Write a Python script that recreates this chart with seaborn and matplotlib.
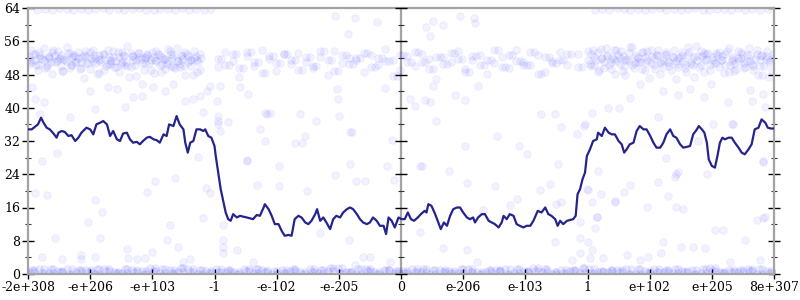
import numpy as np
import pandas as pd
import matplotlib
matplotlib.use("Agg")
import matplotlib.pyplot as plt
import seaborn as sns

# ---------------- data ----------------
x_tick_labels = ["-2e+308", "-e+206", "-e+103", "-1", "-e-102", "-e-205", "0",
                 "e-206", "e-103", "1", "e+102", "e+205", "8e+307"]
y_major = [0, 8, 16, 24, 32, 40, 48, 56, 64]
y_minor = [4, 12, 20, 28, 36, 44, 52, 60]

line_x = [
    -6.00, -5.94, -5.89, -5.84, -5.79, -5.75, -5.70, -5.65, -5.59, -5.54,
    -5.51, -5.46, -5.41, -5.35, -5.30, -5.24, -5.19, -5.14, -5.06, -5.00,
    -4.95, -4.90, -4.84, -4.79, -4.73, -4.68, -4.63, -4.57, -4.52, -4.47,
    -4.41, -4.36, -4.31, -4.25, -4.20, -4.15, -4.09, -4.04, -3.98, -3.93,
    -3.88, -3.82, -3.77, -3.73, -3.66, -3.61, -3.56, -3.50, -3.47, -3.43,
    -3.39, -3.34, -3.29, -3.23, -3.18, -3.15, -3.10, -3.05, -3.00,
    -2.98, -2.94, -2.90, -2.86, -2.82, -2.78, -2.74, -2.70, -2.64, -2.59,
    -2.54, -2.48, -2.43, -2.38, -2.32, -2.27, -2.21, -2.19, -2.13, -2.08,
    -2.03, -1.97, -1.92, -1.87, -1.81, -1.76, -1.71, -1.65, -1.60, -1.54,
    -1.49, -1.44, -1.38, -1.35, -1.30, -1.25, -1.20, -1.14, -1.09, -1.04,
    -0.98, -0.93, -0.87, -0.82, -0.77, -0.71, -0.66, -0.61, -0.55, -0.50,
    -0.45, -0.39, -0.34, -0.28, -0.24, -0.20, -0.15, -0.10, -0.04,
    0.01, 0.06, 0.11, 0.16, 0.21, 0.27, 0.32, 0.38, 0.41, 0.44,
    0.49, 0.55, 0.60, 0.64, 0.69, 0.74, 0.79, 0.84, 0.90, 0.95,
    1.00, 1.06, 1.11, 1.16, 1.19, 1.24, 1.30, 1.35, 1.41, 1.46,
    1.51, 1.57, 1.62, 1.65, 1.70, 1.75, 1.81, 1.86, 1.91, 1.97,
    2.02, 2.08, 2.13, 2.20, 2.26, 2.32, 2.37, 2.42, 2.48, 2.52,
    2.56, 2.61, 2.67, 2.72, 2.77, 2.81, 2.84, 2.88, 2.92, 2.96, 2.99,
    3.04, 3.09, 3.15, 3.17, 3.23, 3.28, 3.34, 3.39, 3.44, 3.50,
    3.55, 3.59, 3.63, 3.68, 3.74, 3.79, 3.84, 3.90, 3.95, 4.01,
    4.06, 4.11, 4.17, 4.22, 4.27, 4.33, 4.38, 4.43, 4.49, 4.54,
    4.60, 4.65, 4.70, 4.76, 4.79, 4.84, 4.88, 4.92, 4.95, 5.00,
    5.05, 5.09, 5.13, 5.17, 5.21, 5.27, 5.32, 5.37, 5.43, 5.48,
    5.53, 5.59, 5.64, 5.69, 5.75, 5.80, 5.86, 5.90, 5.95, 6.00,
]
line_y = [
    34.8, 34.8, 35.4, 36.0, 37.6, 36.4, 35.2, 34.8, 33.8, 32.8,
    34.0, 34.4, 34.2, 33.2, 33.4, 32.0, 32.8, 34.0, 35.2, 34.8,
    33.6, 36.0, 36.4, 36.8, 36.0, 33.2, 34.4, 32.4, 32.0, 33.8,
    34.0, 32.4, 31.6, 31.8, 31.2, 32.0, 32.8, 33.0, 32.4, 32.2,
    31.6, 33.6, 33.2, 36.0, 35.6, 38.0, 36.0, 34.8, 31.6, 29.2,
    31.6, 32.0, 34.8, 34.8, 34.4, 34.8, 33.2, 32.8, 30.8,
    28.4, 24.4, 20.4, 17.6, 14.8, 13.2, 12.8, 14.4, 13.6, 14.0,
    13.8, 13.6, 13.4, 13.2, 14.2, 14.0, 16.0, 16.8, 15.6, 14.0,
    12.0, 12.0, 10.4, 9.2, 9.4, 9.2, 13.2, 14.0, 13.6, 12.4,
    12.0, 12.8, 14.4, 15.6, 12.8, 13.6, 12.4, 10.8, 13.2, 14.0,
    13.6, 14.8, 15.6, 16.0, 15.6, 14.4, 13.2, 12.4, 12.0, 12.4,
    13.6, 12.8, 11.6, 11.6, 9.6, 13.6, 12.8, 11.2, 13.6,
    13.2, 13.2, 14.8, 13.2, 12.8, 13.6, 14.4, 15.2, 14.8, 16.8,
    16.4, 14.4, 12.4, 10.8, 12.4, 11.6, 14.0, 15.6, 16.0, 16.0,
    14.8, 13.6, 13.2, 13.6, 12.4, 13.6, 14.4, 14.4, 12.8, 12.4,
    12.0, 11.2, 12.4, 14.0, 13.2, 14.4, 14.0, 12.0, 11.6, 11.2,
    11.6, 11.6, 12.8, 15.2, 14.8, 16.0, 14.4, 14.0, 13.2, 11.6,
    12.8, 12.0, 12.8, 13.0, 13.2, 14.0, 19.2, 20.4, 22.8, 24.4, 28.4,
    30.0, 32.0, 32.4, 34.0, 33.2, 35.2, 34.0, 33.6, 33.6, 32.0,
    31.2, 29.2, 30.0, 31.2, 31.6, 34.4, 35.6, 34.8, 34.8, 33.2,
    31.6, 30.4, 30.4, 31.6, 33.6, 34.8, 33.2, 32.8, 31.2, 30.4,
    30.6, 30.8, 33.6, 34.8, 35.6, 34.8, 34.0, 31.6, 27.6, 26.0,
    25.6, 28.4, 31.6, 32.8, 32.4, 32.8, 32.8, 31.6, 30.4, 29.2,
    28.8, 30.0, 31.2, 34.8, 35.2, 37.2, 36.4, 35.2, 35.0, 35.0,
]

# dense band near 52 (left, middle, right)
b52_left_x = [
    -5.99, -5.95, -5.89, -5.84, -5.81, -5.75, -5.70, -5.66, -5.61, -5.57,
    -5.52, -5.47, -5.44, -5.38, -5.33, -5.30, -5.24, -5.20, -5.15, -5.10,
    -5.06, -5.01, -4.96, -4.92, -4.86, -4.83, -4.78, -4.72, -4.68, -4.64,
    -4.58, -4.54, -4.49, -4.45, -4.40, -4.35, -4.31, -4.26, -4.21, -4.17,
    -4.12, -4.08, -4.02, -3.98, -3.94, -3.88, -3.84, -3.80, -3.75, -3.70,
    -3.66, -3.61, -3.56, -3.52, -3.47, -3.42, -3.38, -3.33, -3.28, -3.24,
]
b52_left_x2 = [
    -5.97, -5.92, -5.87, -5.82, -5.78, -5.73, -5.68, -5.63, -5.59, -5.54,
    -5.49, -5.45, -5.41, -5.36, -5.31, -5.27, -5.22, -5.17, -5.13, -5.08,
    -5.03, -4.98, -4.94, -4.89, -4.85, -4.80, -4.75, -4.70, -4.66, -4.61,
    -4.56, -4.51, -4.47, -4.42, -4.37, -4.33, -4.28, -4.23, -4.19, -4.14,
    -4.10, -4.05, -4.00, -3.96, -3.91, -3.86, -3.82, -3.77, -3.72, -3.68,
    -3.63, -3.58, -3.54, -3.49, -3.44, -3.40, -3.35, -3.30, -3.26, -3.21,
]
b52_left_y1 = [
    52.3, 51.1, 53.0, 50.4, 52.8, 51.6, 49.8, 52.1, 53.4, 50.9,
    51.7, 52.6, 48.9, 51.3, 53.1, 50.2, 52.4, 51.9, 49.5, 52.7,
    50.8, 53.3, 51.2, 52.0, 48.3, 51.8, 52.9, 50.6, 51.4, 53.6,
    49.9, 52.2, 51.0, 52.5, 50.1, 53.2, 51.5, 47.6, 52.3, 50.7,
    51.9, 53.0, 49.2, 52.1, 51.3, 52.8, 50.5, 51.7, 54.1, 50.0,
    52.6, 51.2, 49.7, 52.4, 53.5, 50.9, 51.6, 52.0, 48.7, 52.9,
]
b52_left_y2 = [
    50.6, 53.8, 51.4, 49.1, 52.0, 54.4, 50.3, 51.9, 48.1, 52.6,
    53.7, 50.0, 51.8, 54.6, 49.6, 52.3, 50.9, 53.5, 51.1, 47.2,
    52.5, 49.3, 54.0, 50.7, 52.8, 51.0, 49.0, 53.9, 50.5, 52.2,
    51.3, 48.6, 53.4, 50.2, 54.8, 49.7, 52.4, 51.6, 53.1, 45.8,
    50.8, 52.7, 51.5, 48.4, 53.6, 50.4, 52.1, 49.4, 51.2, 53.0,
    49.9, 54.3, 50.6, 51.8, 47.9, 52.5, 50.1, 53.7, 51.4, 49.2,
]
b52_mid_x = [
    -2.95, -2.83, -2.71, -2.60, -2.47, -2.36, -2.24, -2.12, -2.01, -1.89,
    -1.77, -1.66, -1.53, -1.42, -1.30, -1.18, -1.07, -0.95, -0.83, -0.72,
    -0.60, -0.48, -0.37, -0.25, -0.13, -0.02, 0.10, 0.22, 0.33, 0.45,
    0.57, 0.68, 0.80, 0.92, 1.03, 1.15, 1.27, 1.38, 1.50, 1.62,
    1.73, 1.85, 1.97, 2.08, 2.20, 2.32, 2.43, 2.55, 2.67, 2.85,
]
b52_mid_x2 = [
    -2.89, -2.77, -2.65, -2.54, -2.41, -2.30, -2.18, -2.06, -1.95, -1.83,
    -1.71, -1.60, -1.47, -1.36, -1.24, -1.12, -1.01, -0.89, -0.77, -0.66,
    -0.54, -0.42, -0.31, -0.19, -0.07, 0.04, 0.16, 0.28, 0.39, 0.51,
    0.63, 0.74, 0.86, 0.98, 1.09, 1.21, 1.33, 1.44, 1.56, 1.68,
    1.79, 1.91, 2.03, 2.14, 2.26, 2.38, 2.49, 2.61, 2.73, 2.91,
]
b52_mid_y1 = [
    51.8, 50.3, 52.9, 49.6, 53.4, 51.1, 48.4, 52.5, 50.7, 53.0,
    51.4, 49.2, 52.2, 50.0, 53.7, 51.6, 48.9, 52.8, 50.5, 51.9,
    53.2, 49.8, 52.0, 51.3, 47.7, 52.6, 50.9, 53.5, 51.0, 49.4,
    52.3, 50.6, 53.1, 51.7, 48.6, 52.4, 50.2, 51.5, 53.8, 49.9,
    52.7, 51.2, 50.4, 53.3, 48.1, 52.1, 50.8, 51.6, 53.0, 49.7,
]
b52_mid_y2 = [
    49.9, 53.5, 51.2, 47.3, 52.4, 50.1, 54.0, 51.7, 48.8, 52.9,
    50.6, 53.2, 51.0, 49.5, 52.3, 47.9, 53.6, 50.8, 52.0, 51.4,
    48.5, 52.7, 50.3, 54.2, 51.5, 49.1, 52.5, 50.0, 53.0, 51.8,
    46.8, 52.2, 50.9, 53.7, 49.3, 51.6, 52.8, 48.2, 50.7, 52.1,
    49.6, 53.9, 51.1, 50.4, 52.6, 48.7, 51.3, 53.4, 50.2, 52.9,
]
b52_right_x = [
    3.01, 3.06, 3.11, 3.17, 3.22, 3.26, 3.31, 3.37, 3.42, 3.46,
    3.52, 3.57, 3.61, 3.66, 3.72, 3.77, 3.81, 3.87, 3.92, 3.96,
    4.02, 4.07, 4.11, 4.16, 4.22, 4.27, 4.31, 4.37, 4.42, 4.46,
    4.52, 4.57, 4.61, 4.67, 4.72, 4.76, 4.82, 4.87, 4.91, 4.97,
    5.02, 5.06, 5.12, 5.17, 5.21, 5.27, 5.32, 5.36, 5.42, 5.47,
    5.51, 5.57, 5.62, 5.66, 5.72, 5.77, 5.81, 5.87, 5.92, 5.98,
]
b52_right_x2 = [
    3.04, 3.09, 3.14, 3.19, 3.24, 3.29, 3.34, 3.39, 3.44, 3.49,
    3.54, 3.59, 3.64, 3.69, 3.74, 3.79, 3.84, 3.89, 3.94, 3.99,
    4.04, 4.09, 4.14, 4.19, 4.24, 4.29, 4.34, 4.39, 4.44, 4.49,
    4.54, 4.59, 4.64, 4.69, 4.74, 4.79, 4.84, 4.89, 4.94, 4.99,
    5.04, 5.09, 5.14, 5.19, 5.24, 5.29, 5.34, 5.39, 5.44, 5.49,
    5.54, 5.59, 5.64, 5.69, 5.74, 5.79, 5.84, 5.89, 5.94, 5.97,
]
b52_right_y1 = [
    51.4, 52.9, 50.2, 53.3, 51.8, 49.6, 52.5, 50.9, 53.8, 51.2,
    52.0, 48.8, 51.6, 53.1, 50.4, 52.7, 51.0, 49.3, 52.3, 53.6,
    50.7, 51.9, 52.8, 48.2, 51.5, 53.0, 50.0, 52.2, 51.3, 49.9,
    53.4, 50.6, 52.6, 51.1, 47.4, 52.4, 50.3, 53.2, 51.7, 49.0,
    52.1, 50.8, 53.5, 51.4, 52.9, 48.6, 51.8, 50.5, 53.7, 52.0,
    49.5, 51.2, 52.7, 50.1, 53.0, 51.6, 48.0, 52.4, 50.9, 51.9,
]
b52_right_y2 = [
    53.6, 50.1, 52.2, 48.7, 54.2, 51.0, 52.8, 49.4, 51.7, 53.9,
    50.5, 52.4, 47.8, 51.3, 54.5, 50.8, 52.0, 53.3, 49.1, 51.6,
    54.0, 50.3, 52.7, 51.1, 49.8, 53.5, 50.9, 52.3, 46.9, 51.9,
    52.6, 49.5, 54.7, 50.6, 52.1, 51.4, 53.7, 48.5, 52.9, 50.2,
    51.5, 53.1, 49.7, 52.5, 50.4, 54.3, 51.2, 48.9, 52.0, 53.4,
    50.7, 52.8, 51.3, 49.2, 53.8, 50.0, 52.6, 51.7, 47.5, 53.0,
]

# points along the top edge (64)
top_left_x = [
    -5.85, -5.72, -5.61, -5.50, -5.37, -5.28, -5.14, -5.03, -4.92, -4.80,
    -4.69, -4.55, -4.46, -4.33, -4.21, -4.10, -3.98, -3.87, -3.75, -3.64,
    -3.52, -3.41, -3.29, -3.17, -3.05,
]
top_right_x = [
    3.12, 3.24, 3.35, 3.47, 3.58, 3.69, 3.81, 3.93, 4.04, 4.16,
    4.27, 4.39, 4.50, 4.62, 4.73, 4.85, 4.96, 5.08, 5.19, 5.31,
    5.42, 5.54, 5.65, 5.77, 5.90,
]
top_y = [
    63.6, 63.8, 63.5, 63.9, 63.7, 63.6, 63.8, 63.4, 63.7, 63.9,
    63.5, 63.8, 63.6, 63.7, 63.9, 63.5, 63.6, 63.8, 63.7, 63.4,
    63.9, 63.6, 63.8, 63.5, 63.7,
]

# dense band along the bottom (0-1.5)
bottom_x1 = [
    -5.97, -5.82, -5.67, -5.52, -5.38, -5.22, -5.07, -4.93, -4.78, -4.62,
    -4.48, -4.33, -4.17, -4.03, -3.88, -3.72, -3.58, -3.43, -3.27, -3.13,
    -2.98, -2.82, -2.68, -2.53, -2.37, -2.23, -2.08, -1.92, -1.78, -1.63,
    -1.47, -1.33, -1.18, -1.02, -0.88, -0.73, -0.57, -0.43, -0.28, -0.12,
    0.03, 0.18, 0.32, 0.47, 0.63, 0.77, 0.92, 1.08, 1.22, 1.37,
    1.53, 1.67, 1.82, 1.98, 2.12, 2.27, 2.43, 2.57, 2.72, 2.88,
    3.02, 3.17, 3.33, 3.47, 3.62, 3.78, 3.92, 4.07, 4.23, 4.37,
    4.52, 4.68, 4.82, 4.97, 5.13, 5.27, 5.42, 5.58, 5.72, 5.88,
]
bottom_x2 = [
    -5.90, -5.74, -5.60, -5.45, -5.30, -5.15, -4.99, -4.85, -4.70, -4.55,
    -4.40, -4.25, -4.10, -3.95, -3.80, -3.65, -3.50, -3.35, -3.20, -3.05,
    -2.90, -2.75, -2.60, -2.45, -2.30, -2.15, -2.00, -1.85, -1.70, -1.55,
    -1.40, -1.25, -1.10, -0.95, -0.80, -0.65, -0.50, -0.35, -0.20, -0.05,
    0.10, 0.25, 0.40, 0.55, 0.70, 0.85, 1.00, 1.15, 1.30, 1.45,
    1.60, 1.75, 1.90, 2.05, 2.20, 2.35, 2.50, 2.65, 2.80, 2.95,
    3.10, 3.25, 3.40, 3.55, 3.70, 3.85, 4.00, 4.15, 4.30, 4.45,
    4.60, 4.75, 4.90, 5.05, 5.20, 5.35, 5.50, 5.65, 5.80, 5.95,
]
bottom_x3 = [
    -5.94, -5.78, -5.63, -5.49, -5.34, -5.18, -5.03, -4.89, -4.74, -4.58,
    -4.44, -4.29, -4.13, -3.99, -3.84, -3.68, -3.54, -3.39, -3.23, -3.09,
    -2.94, -2.78, -2.64, -2.49, -2.33, -2.19, -2.04, -1.88, -1.74, -1.59,
    -1.43, -1.29, -1.14, -0.98, -0.84, -0.69, -0.53, -0.39, -0.24, -0.08,
    0.07, 0.22, 0.36, 0.51, 0.67, 0.81, 0.96, 1.12, 1.26, 1.41,
    1.57, 1.71, 1.86, 2.02, 2.16, 2.31, 2.47, 2.61, 2.76, 2.92,
    3.06, 3.21, 3.37, 3.51, 3.66, 3.82, 3.96, 4.11, 4.27, 4.41,
    4.56, 4.72, 4.86, 5.01, 5.17, 5.31, 5.46, 5.62, 5.76, 5.92,
]
bottom_y1 = [
    0.4, 1.1, 0.2, 0.8, 1.3, 0.5, 0.9, 0.1, 1.2, 0.6,
    0.3, 1.0, 0.7, 1.4, 0.2, 0.9, 0.5, 1.2, 0.0, 0.8,
    1.1, 0.4, 0.6, 1.3, 0.3, 0.9, 0.1, 1.0, 0.7, 0.5,
    1.2, 0.2, 0.8, 1.4, 0.6, 0.0, 1.1, 0.4, 0.9, 0.3,
    0.7, 1.3, 0.5, 0.1, 1.0, 0.8, 0.2, 1.2, 0.6, 0.4,
    0.9, 1.1, 0.3, 0.7, 1.4, 0.5, 0.0, 1.0, 0.8, 0.2,
    1.2, 0.6, 0.4, 0.9, 1.3, 0.1, 0.7, 1.1, 0.5, 0.3,
    0.8, 1.0, 0.2, 1.4, 0.6, 0.9, 0.4, 1.2, 0.0, 0.7,
]
bottom_y2 = [
    0.9, 0.3, 1.2, 0.6, 0.1, 1.0, 0.4, 1.3, 0.7, 0.2,
    1.1, 0.5, 0.0, 0.8, 1.2, 0.3, 1.4, 0.6, 0.9, 0.2,
    0.5, 1.0, 0.1, 0.7, 1.3, 0.4, 0.8, 0.3, 1.1, 0.0,
    0.6, 0.9, 1.4, 0.2, 0.5, 1.2, 0.7, 0.1, 1.0, 0.8,
    0.3, 0.6, 1.1, 0.9, 0.4, 0.2, 1.3, 0.5, 0.0, 1.0,
    0.7, 0.1, 1.2, 0.4, 0.8, 1.1, 0.6, 0.3, 0.9, 1.4,
    0.2, 0.8, 1.0, 0.5, 0.0, 1.2, 0.3, 0.6, 0.9, 1.3,
    0.4, 0.1, 1.1, 0.7, 0.2, 0.5, 1.0, 0.8, 1.2, 0.3,
]

# individually readable scattered points (x, y)
sparse_points = [
    (-5.94, 44.9), (-5.89, 42.1), (-5.75, 41.3), (-5.81, 38.6), (-5.32, 37.7),
    (-5.00, 44.1), (-4.92, 39.8), (-4.71, 44.9), (-4.57, 44.6), (-4.44, 40.3),
    (-4.31, 42.5), (-4.17, 42.9), (-3.99, 44.9), (-3.80, 44.1), (-3.66, 45.8),
    (-3.47, 41.7), (-3.34, 42.2), (-3.23, 42.9), (-3.18, 38.9), (-3.12, 44.1),
    (-3.07, 45.3), (-2.96, 41.7), (-2.94, 38.1), (-2.94, 36.9), (-2.91, 34.5),
    (-2.78, 36.5), (-2.91, 45.3), (-2.59, 44.9), (-2.46, 43.4), (-2.27, 35.0),
    (-2.16, 38.6),
    (-5.78, 27.3), (-5.54, 29.0), (-5.89, 19.4), (-5.70, 18.9), (-4.92, 17.7),
    (-4.81, 14.9), (-5.03, 12.5), (-5.57, 8.6), (-4.84, 8.6), (-5.78, 4.1),
    (-5.46, 3.6), (-5.14, 4.6), (-5.14, 3.6), (-4.92, 4.1), (-4.41, 6.0),
    (-4.39, 3.8), (-4.25, 3.6), (-4.12, 3.8), (-4.01, 5.3), (-4.09, 19.7),
    (-3.96, 22.4), (-3.72, 11.7), (-3.77, 8.1), (-3.64, 23.0), (-3.58, 6.5),
    (-3.39, 3.6), (-3.50, 2.9), (-3.26, 28.1), (-3.18, 13.4), (-3.13, 20.6),
    (-3.07, 19.4), (-2.86, 11.7), (-2.86, 8.1), (-2.86, 6.5), (-2.86, 5.0),
    (-2.64, 5.8), (-2.48, 27.3), (-2.32, 21.3), (-2.38, 2.9),
    (2.53, 26.5), (2.40, 21.7), (2.24, 20.1), (2.50, 16.9), (2.58, 17.3),
    (2.48, 7.7), (2.75, 3.4), (2.88, 12.5), (2.88, 8.6), (2.88, 5.0),
    (3.01, 7.7), (3.07, 5.8), (3.04, 3.8), (3.15, 13.7), (3.12, 11.0),
    (3.17, 24.9), (3.21, 19.2), (3.25, 3.8), (3.44, 17.3), (3.58, 19.7),
    (3.68, 21.3), (3.63, 4.6), (3.84, 3.4), (3.98, 4.1), (3.95, 16.1),
    (4.14, 22.1), (4.43, 24.1), (4.43, 16.1), (4.22, 7.7), (4.19, 5.0),
    (4.54, 15.7), (4.51, 6.5), (4.70, 6.5), (4.89, 6.2), (5.05, 10.5),
    (5.18, 10.5), (5.53, 8.3), (5.72, 12.9), (5.83, 13.4), (5.83, 27.3),
    (5.29, 2.9), (5.77, 3.4),
    (-1.06, 62.1), (-0.74, 61.7), (-0.39, 60.7), (-0.85, 57.8), (0.41, 59.4),
    (0.46, 57.3), (0.52, 60.9), (0.67, 59.9), (0.95, 62.1), (1.17, 61.7),
    (1.19, 60.5), (-1.03, 44.5), (-1.01, 42.1), (-0.99, 37.9), (-0.79, 34.1),
    (-0.26, 44.8), (0.14, 42.1), (0.23, 40.5), (0.39, 41.9), (0.47, 41.3),
    (0.52, 45.3), (0.56, 36.8), (0.87, 43.1), (1.03, 41.9), (1.24, 45.3),
    (-0.15, 32.3), (1.03, 30.9),
    (-0.82, 26.4), (-1.06, 23.7), (-0.72, 22.4), (-0.23, 26.1), (0.31, 26.1),
    (1.06, 21.9), (0.31, 10.1), (-0.83, 8.1), (0.68, 6.2), (1.06, 5.8),
    (-0.61, 4.1), (-0.50, 4.1), (1.22, 2.9), (-0.74, 2.2), (-0.18, 2.9),
    (3.33, 40.0), (3.51, 40.0), (3.68, 42.4), (4.14, 37.7), (4.22, 44.1),
    (4.46, 43.1), (4.65, 44.5), (4.87, 42.7), (5.02, 36.0), (5.26, 41.5),
    (5.34, 36.0), (5.64, 41.7), (5.82, 43.3), (5.85, 40.3), (5.61, 44.3),
    (3.84, 45.7),
    (-2.95, 36.1), (-2.19, 38.7), (-2.11, 38.7), (-1.62, 38.5), (-2.19, 31.9),
    (-1.71, 31.6), (-1.60, 31.6), (-1.54, 33.3), (-1.36, 36.9), (-2.48, 27.5),
    (-1.97, 26.1), (-0.82, 34.1), (-1.97, 21.1), (-1.52, 20.0), (-0.58, 22.4),
    (-0.12, 22.5), (-1.30, 9.8),
    (1.54, 33.1), (1.90, 30.7), (2.02, 28.9), (2.26, 38.5), (2.48, 38.5),
    (2.58, 35.3), (2.83, 33.6), (2.95, 35.7), (0.33, 25.9), (0.77, 24.9),
    (1.51, 21.1), (1.86, 18.1), (1.75, 16.5), (1.32, 15.5), (3.01, 20.1),
    (2.96, 36.1), (3.07, 38.7), (5.32, 36.1), (4.27, 28.0), (4.41, 23.3),
    (4.46, 24.5), (4.78, 31.9), (4.92, 24.1), (5.83, 26.9), (2.99, 20.5),
    (4.29, 18.7), (3.07, 17.3), (3.45, 17.6), (3.15, 13.6), (5.85, 13.6),
]

# ---------------- assemble ----------------
pairs = []
for xs, ys in [(b52_left_x, b52_left_y1), (b52_left_x, b52_left_y2),
               (b52_left_x2, b52_right_y1),
               (b52_mid_x, b52_mid_y1), (b52_mid_x, b52_mid_y2),
               (b52_mid_x2, b52_mid_y1),
               (b52_right_x, b52_right_y1), (b52_right_x, b52_right_y2),
               (b52_right_x2, b52_left_y2),
               (top_left_x, top_y), (top_right_x, top_y)]:
    pairs.extend(zip(xs, ys))
pairs.extend(sparse_points)
points = pd.DataFrame(pairs, columns=["x", "y"])

bottom_pairs = []
for xs, ys in [(bottom_x1, bottom_y1), (bottom_x2, bottom_y2),
               (bottom_x3, bottom_y2), (bottom_x2, bottom_y1)]:
    bottom_pairs.extend(zip(xs, ys))
bottom_points = pd.DataFrame(bottom_pairs, columns=["x", "y"])

line_df = pd.DataFrame({"x": line_x, "y": line_y})

# ---------------- plot ----------------
sns.set_style("white")
plt.rcParams["font.family"] = ["DejaVu Serif"]

W, H = 800, 300
fig = plt.figure(figsize=(W / 100, H / 100), dpi=100)
ax = fig.add_axes([28 / W, 26 / H, 746 / W, 266 / H])

grey = "#a3a3a3"
ax.axvline(0, color=grey, lw=1.6, zorder=1)

sns.scatterplot(data=points, x="x", y="y", ax=ax, color="#0000ff",
                alpha=0.055, s=30, edgecolor="#0000ff", linewidth=0.6,
                legend=False, zorder=2)
sns.scatterplot(data=bottom_points, x="x", y="y", ax=ax, color="#0000ff",
                alpha=0.07, s=30, edgecolor="#0000ff", linewidth=0.6,
                legend=False, zorder=2)
sns.lineplot(data=line_df, x="x", y="y", ax=ax, sort=False, estimator=None,
             color="#24248c", linewidth=1.6, zorder=4)

# tick marks on the centre axis
ax.plot(np.zeros(len(y_major)), y_major, ls="none", marker="_", ms=8,
        mew=1.0, color="black", zorder=3, clip_on=False)
ax.plot(np.zeros(len(y_minor)), y_minor, ls="none", marker="_", ms=4.5,
        mew=0.8, color="#333333", zorder=3, clip_on=False)

ax.set_xlim(-6, 6)
ax.set_ylim(0, 64)
ax.set_xticks(np.arange(-6, 7))
ax.set_xticklabels(x_tick_labels)
ax.set_yticks(y_major)
ax.set_yticklabels([str(v) for v in y_major])
ax.set_yticks(y_minor, minor=True)
ax.set_xlabel("")
ax.set_ylabel("")

ax.tick_params(axis="y", which="major", direction="inout", length=8,
               width=1.0, color="black", left=True, right=True,
               labelsize=9, pad=1.5, labelcolor="black")
ax.tick_params(axis="y", which="minor", direction="inout", length=4.5,
               width=0.8, color="#333333", left=True, right=True)
ax.tick_params(axis="x", which="major", direction="inout", length=6.5,
               width=1.0, color="black", bottom=True, top=False,
               labelsize=9, pad=2, labelcolor="black")

for side in ["left", "right", "top", "bottom"]:
    ax.spines[side].set_visible(True)
    ax.spines[side].set_color(grey)
    ax.spines[side].set_linewidth(1.6)

fig.savefig("out.png", dpi=100)
